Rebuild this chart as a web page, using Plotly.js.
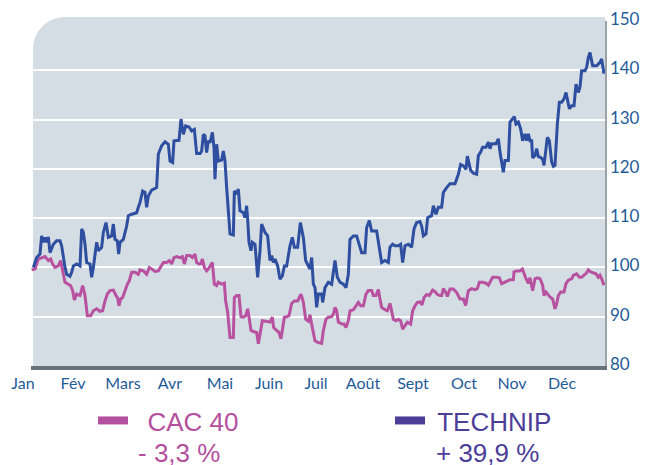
<!DOCTYPE html>
<html>
<head>
<meta charset="utf-8">
<script src="https://cdn.plot.ly/plotly-3.0.1.min.js"></script>
<style>
  html, body { margin: 0; padding: 0; background: #fff; }
  #chart { width: 649px; height: 465px; }
</style>
</head>
<body>
<div id="chart"></div>
<script>
// data (x in months from start of year, base 100)
var months = ['Jan', 'Fév', 'Mars', 'Avr', 'Mai', 'Juin', 'Juil', 'Août', 'Sept', 'Oct', 'Nov', 'Déc'];

var technipX = [0.307,0.373,0.44,0.473,0.507,0.54,0.573,0.607,0.64,0.707,0.773,0.84,0.873,0.907,0.94,0.973,1.04,1.073,1.107,1.173,1.24,1.273,1.307,1.34,1.373,1.44,1.473,1.507,1.54,1.573,1.607,1.673,1.707,1.76,1.807,1.873,1.907,1.94,1.987,2.013,2.04,2.107,2.173,2.207,2.273,2.373,2.407,2.44,2.493,2.54,2.573,2.607,2.673,2.773,2.807,2.873,2.94,3.007,3.04,3.093,3.12,3.22,
  3.26,3.307,3.353,3.42,3.473,3.527,3.573,3.64,3.673,3.707,3.74,3.773,3.807,3.84,3.887,3.92,3.94,3.973,4.007,4.073,4.107,4.14,4.173,4.207,4.24,4.307,4.327,4.373,4.407,4.44,4.507,4.54,4.573,4.593,4.62,4.66,4.687,4.74,4.793,4.84,4.873,4.94,4.993,5.04,5.073,5.107,5.14,5.193,5.24,5.287,5.327,5.373,5.44,5.487,5.527,5.593,5.647,5.707,5.753,5.807,5.84,5.873,5.907,5.94,5.973,6.007,
  6.073,6.093,6.14,6.207,6.273,6.34,6.387,6.44,6.507,6.56,6.607,6.64,6.707,6.773,6.827,6.873,6.94,6.973,7.027,7.073,7.173,7.227,7.273,7.34,7.407,7.44,7.493,7.54,7.607,7.653,7.693,7.74,7.807,7.873,7.92,7.973,8.04,8.073,8.107,8.16,8.193,8.273,8.307,8.36,8.407,8.473,8.507,8.573,8.64,8.74,8.807,8.853,8.907,8.96,8.987,
  9.053,9.107,9.173,9.207,9.253,9.293,9.36,9.407,9.44,9.473,9.56,9.607,9.64,9.673,9.707,9.74,9.807,9.84,9.893,9.927,9.96,10.007,10.053,10.093,10.14,10.173,10.207,10.24,10.273,10.293,10.34,10.373,10.407,10.44,10.493,10.52,10.56,10.587,10.627,10.653,10.673,10.707,10.74,10.787,10.827,10.873,10.92,10.96,10.987,11.027,11.073,11.12,11.16,11.207,11.24,11.273,11.34,11.373,11.407,11.44,11.493,11.573,11.64,11.673,11.72];
var technipY = [100.0,102.0,102.7,106.4,105.1,106.1,105.1,106.2,103.0,104.7,105.4,105.4,104.4,102.0,100.0,98.6,98.2,99.0,100.3,100.7,100.3,107.8,107.1,104.7,101.0,100.7,98.0,100.0,102.7,105.1,103.4,104.1,107.1,109.1,106.1,106.4,108.8,105.7,105.4,102.7,105.1,105.7,108.4,110.5,110.8,111.1,112.2,113.2,115.5,115.2,112.2,114.5,115.7,116.2,123.0,124.7,125.5,125.0,121.6,121.3,125.7,125.8,
  130.1,127.0,128.7,128.5,127.7,128.0,123.1,123.1,123.6,127.0,126.7,123.3,125.7,125.3,127.4,124.3,117.9,125.0,121.6,121.8,123.6,121.6,116.2,111.5,106.8,106.6,115.5,114.9,115.9,111.5,111.1,110.1,112.5,109.8,105.1,103.4,105.1,104.7,98.0,103.4,108.8,107.1,106.4,101.4,102.4,101.0,101.7,100.3,97.6,98.3,100.3,100.3,104.4,106.1,104.1,104.1,109.1,106.1,101.4,100.3,99.7,102.0,96.6,95.9,91.9,94.6,
  94.6,92.9,95.9,97.0,96.6,101.4,98.0,97.0,96.6,95.9,98.6,105.7,106.4,106.4,104.7,103.0,103.0,108.1,109.5,107.4,107.4,103.4,101.0,101.4,101.0,104.1,104.7,104.4,104.4,104.7,101.0,104.4,104.7,104.1,107.8,109.1,109.3,108.4,106.4,106.8,110.1,110.5,112.5,110.8,112.2,112.2,115.2,116.2,117.0,117.0,118.9,120.9,120.6,119.9,122.6,
  119.7,119.1,118.9,122.7,123.4,124.4,124.4,125.4,124.1,125.1,125.1,126.1,123.4,121.4,119.3,121.7,121.7,129.5,130.1,130.6,129.1,129.5,128.1,125.7,127.1,125.7,127.1,125.7,125.7,122.2,122.7,124.1,122.5,122.4,122.0,120.7,124.1,126.4,125.7,123.7,121.4,120.5,120.7,129.1,133.5,133.5,134.2,135.5,133.9,132.2,132.8,132.8,137.2,135.5,136.6,139.9,139.9,140.6,142.6,143.6,140.9,140.9,141.6,142.3,139.3];

var cacX = [0.273,0.34,0.407,0.473,0.54,0.607,0.653,0.693,0.74,0.807,0.853,0.907,0.94,1.007,1.053,1.093,1.127,1.173,1.24,1.293,1.34,1.387,1.453,1.507,1.573,1.64,1.693,1.74,1.787,1.84,1.907,1.96,1.993,2.02,2.053,2.093,2.14,2.187,2.227,2.273,2.34,2.407,2.44,2.507,2.573,2.627,2.673,2.74,2.807,2.853,2.907,2.973,3.027,3.073,3.12,3.173,
  3.24,3.287,3.327,3.373,3.44,3.487,3.54,3.573,3.62,3.66,3.687,3.727,3.773,3.807,3.84,3.887,3.927,3.973,4.007,4.073,4.127,4.153,4.193,4.22,4.24,4.307,4.327,4.373,4.42,4.46,4.507,4.553,4.593,4.627,4.66,4.707,4.773,4.807,4.84,4.887,4.953,5.04,5.087,5.113,5.173,5.22,5.26,5.287,5.327,5.373,5.42,5.473,5.527,5.593,5.66,5.707,5.753,5.807,5.84,5.873,5.907,5.94,5.993,6.073,
  6.107,6.16,6.207,6.273,6.307,6.34,6.373,6.407,6.473,6.52,6.56,6.607,6.64,6.707,6.74,6.807,6.853,6.907,6.96,7.007,7.073,7.107,7.16,7.207,7.24,7.273,7.34,7.387,7.44,7.473,7.507,7.56,7.607,7.653,7.693,7.74,7.787,7.853,7.893,7.94,7.987,8.04,8.08,8.12,8.173,8.227,8.293,8.34,8.387,8.44,8.473,8.507,8.56,8.587,8.64,8.707,8.773,8.84,
  8.907,8.953,9.007,9.073,9.14,9.187,9.227,9.293,9.36,9.407,9.44,9.493,9.573,9.627,9.673,9.74,9.807,9.84,9.907,9.92,9.973,10.04,10.087,10.12,10.16,10.207,10.24,10.293,10.34,10.387,10.44,10.493,10.52,10.56,10.607,10.64,10.693,10.74,10.773,10.807,10.853,10.92,10.96,11.007,11.073,11.107,11.173,11.227,11.273,11.32,11.373,11.407,11.453,11.507,11.56,11.607,11.64,11.673,11.72];
var cacY = [99.5,99.7,101.7,102.0,102.2,101.4,101.7,100.7,100.0,100.3,101.4,98.6,97.0,96.6,96.3,95.3,93.4,94.6,94.3,96.3,94.3,90.2,90.2,91.2,91.6,91.1,91.2,93.2,94.6,95.3,95.4,94.3,93.8,92.2,93.6,93.9,95.3,96.6,97.3,99.0,99.0,98.6,99.5,99.3,98.6,100.0,99.7,99.2,99.3,100.0,101.0,101.0,101.4,100.7,102.0,102.2,
  102.0,102.2,100.7,102.4,102.4,102.0,102.7,101.0,100.7,100.8,101.7,100.0,99.3,99.7,100.3,101.0,96.6,96.3,97.0,96.6,96.8,93.2,90.9,88.5,85.8,85.8,93.9,94.3,94.3,90.0,89.9,90.2,91.6,89.5,87.2,87.0,86.8,84.5,86.5,89.2,89.1,88.9,89.9,87.8,87.2,86.8,85.5,87.2,89.9,90.0,90.2,92.7,93.2,93.2,94.6,92.9,89.5,89.1,90.4,88.5,86.8,85.1,84.8,84.6,
  87.2,89.5,89.9,90.0,90.5,91.9,91.2,88.9,88.5,88.5,87.8,89.2,91.2,91.4,91.9,92.9,92.2,92.2,94.6,95.3,95.3,94.3,94.3,95.5,93.6,91.9,91.4,91.2,92.7,91.2,89.5,89.2,89.5,89.2,87.5,88.2,88.9,88.5,91.2,92.2,92.9,93.0,92.4,93.9,94.5,94.3,95.4,95.1,94.5,94.3,94.3,95.7,94.9,94.1,95.6,95.6,94.9,93.6,
  93.6,92.3,95.3,95.7,95.5,95.7,97.0,97.0,96.8,96.4,97.0,98.0,98.0,97.9,96.7,97.0,97.2,97.5,97.5,99.1,99.3,99.3,99.7,98.7,97.7,96.8,97.9,95.3,97.7,97.9,97.7,96.4,94.3,95.0,94.3,94.0,93.6,91.6,92.6,94.3,95.0,95.0,96.7,97.4,97.7,98.4,98.7,98.0,98.0,98.4,98.9,99.5,99.1,98.9,98.7,98.0,98.4,97.7,96.4];

var yTicks = [80, 90, 100, 110, 120, 130, 140, 150];
var gridVals = [90, 100, 110, 120, 130, 140];

var cacColor = '#b8519f';
var technipColor = '#2e4ea0';
var cacLegendColor = '#b5509e';
var technipLegendColor = '#4c3d99';
var axisTextColor = '#1f5b98';
var legendFont = '"Liberation Sans", Arial, sans-serif';

var data = [
  {x: cacX, y: cacY, type: 'scatter', mode: 'lines', line: {color: cacColor, width: 3}, showlegend: false, hoverinfo: 'skip'},
  {x: technipX, y: technipY, type: 'scatter', mode: 'lines', line: {color: technipColor, width: 3}, showlegend: false, hoverinfo: 'skip'},
  // legend entries
  {x: [null], y: [null], type: 'scatter', mode: 'lines', line: {color: cacLegendColor, width: 8},
   name: '\u00a0\u00a0<span style="color:' + cacLegendColor + '">CAC 40</span>', legend: 'legend'},
  {x: [null], y: [null], type: 'scatter', mode: 'lines', line: {color: technipLegendColor, width: 8},
   name: '\u00a0<span style="color:' + technipLegendColor + '">TECHNIP</span>', legend: 'legend2'}
];

// rounded top-left corner of the grey panel (paper coords)
var x0 = 0.0035, y0 = 0, x1 = 1, y1 = 1.0116;
var rx = 32 / 574, ry = 32 / 345, k = 0.552;
var panelPath = 'M' + x0 + ',' + y0 +
  ' L' + x0 + ',' + (y1 - ry) +
  ' C' + x0 + ',' + (y1 - ry + k * ry) + ' ' + (x0 + rx - k * rx) + ',' + y1 + ' ' + (x0 + rx) + ',' + y1 +
  ' L' + x1 + ',' + y1 + ' L' + x1 + ',' + y0 + ' Z';

var legendBase = {
  orientation: 'h',
  xanchor: 'left',
  y: -0.09, yanchor: 'top',
  font: {family: legendFont, size: 26},
  bgcolor: 'rgba(0,0,0,0)'
};

var layout = {
  width: 649,
  height: 465,
  margin: {l: 31, r: 44, t: 21, b: 99, autoexpand: false},
  paper_bgcolor: '#ffffff',
  plot_bgcolor: 'rgba(0,0,0,0)',
  showlegend: true,
  xaxis: {
    range: [0.26, 11.74],
    showgrid: false,
    zeroline: false,
    showline: true,
    linecolor: '#66737a',
    linewidth: 4,
    tickmode: 'array',
    tickvals: [0.6, 1.6, 2.6, 3.54, 4.54, 5.52, 6.46, 7.4, 8.4, 9.42, 10.38, 11.38],
    ticktext: months,
    ticks: '',
    ticklabelshift: -25,
    tickfont: {family: 'Lato, "Open Sans", sans-serif', size: 16, color: axisTextColor},
    minor: {tickvals: [1, 2, 3, 4, 5, 6, 7, 8, 9, 10, 11], ticks: 'outside', ticklen: 4, tickwidth: 1.5, tickcolor: '#ffffff', showgrid: false}
  },
  yaxis: {
    range: [80, 150],
    side: 'right',
    showgrid: false,
    zeroline: false,
    showline: true,
    linecolor: '#9aa3a9',
    linewidth: 1.5,
    tickmode: 'array',
    tickvals: yTicks,
    ticks: '',
    ticklabelshift: -2,
    tickfont: {family: 'Lato, "Open Sans", sans-serif', size: 17, color: axisTextColor},
    minor: {tickvals: gridVals, showgrid: true, gridcolor: '#ffffff', gridwidth: 2, ticks: ''}
  },
  shapes: [
    {type: 'path', xref: 'paper', yref: 'paper', path: panelPath, fillcolor: '#d4dde4', line: {width: 0}, layer: 'below'}
  ],
  legend: Object.assign({}, legendBase, {x: 0.108}),
  legend2: Object.assign({}, legendBase, {x: 0.6254}),
  annotations: [
    {xref: 'paper', yref: 'paper', x: 0.1829, y: -0.252, xanchor: 'left', yanchor: 'middle', showarrow: false,
     text: '- 3,3 %', font: {family: legendFont, size: 26, color: cacLegendColor}},
    {xref: 'paper', yref: 'paper', x: 0.702, y: -0.252, xanchor: 'left', yanchor: 'middle', showarrow: false,
     text: '+ 39,9 %', font: {family: legendFont, size: 26, color: technipLegendColor}}
  ]
};

Plotly.newPlot('chart', data, layout, {displayModeBar: false, staticPlot: true});
</script>
</body>
</html>
